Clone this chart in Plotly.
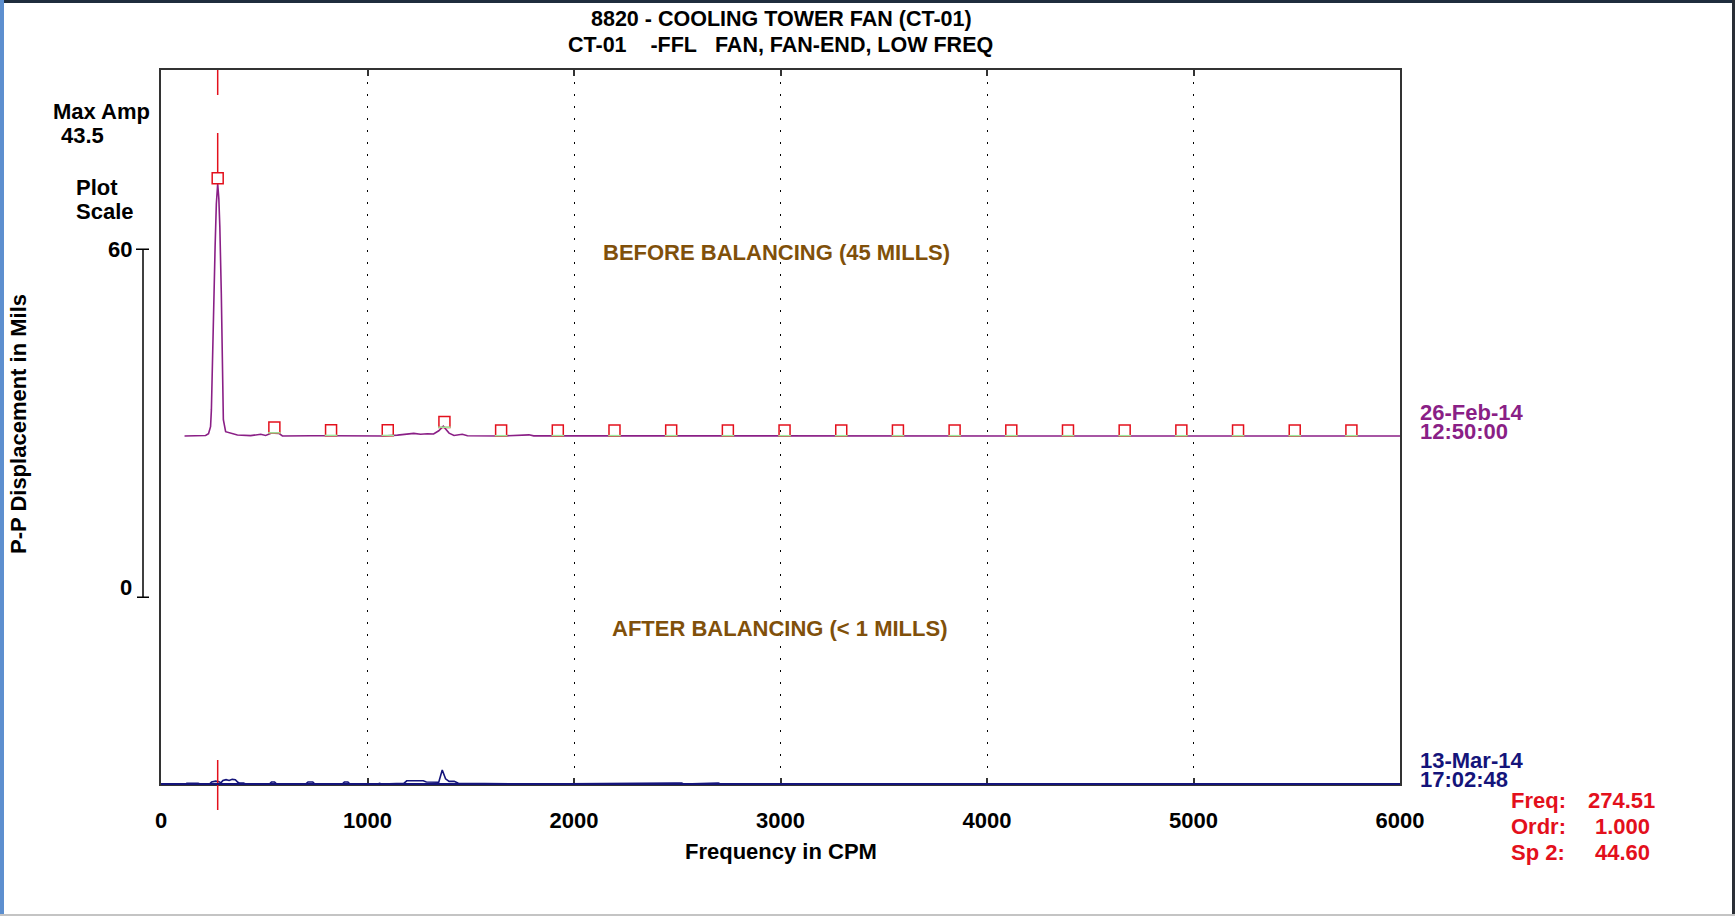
import numpy as np
import plotly.graph_objects as go

# ---------------- data ----------------
# 26-Feb-14 12:50:00  (before balancing) - frequency in CPM, P-P displacement in mils
FREQ_UPPER = [114, 150, 190, 216, 230, 240, 244, 252, 262, 268, 274.51, 280, 285, 292, 297, 302,
              313, 337, 370, 434, 483, 507, 539, 549, 571, 588, 628, 691, 725, 829, 919, 981,
              1078, 1145, 1175, 1224, 1257, 1290, 1320, 1345, 1367, 1395, 1419, 1459, 1484,
              1563, 1645, 1782, 1805, 2000, 3000, 4000, 5000, 6000]
AMP_UPPER = [0.0, 0.02, 0.03, 0.08, 0.4, 1.6, 4.5, 18.8, 32.6, 40.0, 43.5, 41.0, 36.0, 24.6, 10.2, 2.8,
             0.75, 0.45, 0.17, 0.06, 0.3, 0.1, 0.55, 0.5, 0.45, 0.0, 0.05, 0.1, 0.05, 0.05, 0.05, 0.05,
             0.0, 0.15, 0.25, 0.45, 0.3, 0.4, 0.35, 0.9, 1.7, 0.5, 0.1, 0.3, 0.05,
             0.05, 0.0, 0.2, 0.02, 0.02, 0.0, 0.01, 0.0, 0.0]

# 13-Mar-14 17:02:48  (after balancing)
FREQ_LOWER = [119, 125, 180, 190, 235, 245, 265, 281, 290, 300, 315, 330, 345, 360, 372, 380, 400,
              410, 525, 535, 550, 560, 700, 712, 735, 745, 878, 888, 905, 915, 1050, 1058, 1070,
              1128, 1176, 1190, 1270, 1285, 1335, 1345, 1362, 1378, 1395, 1420, 1440, 1553, 1560,
              1585, 1666, 1675, 1780, 1787, 1800, 2489, 2522, 2530, 2667, 2699, 2710, 6000]
AMP_LOWER = [0.0, 0.1, 0.1, 0.0, 0.0, 0.35, 0.5, 0.4, 0.2, 0.6, 0.75, 0.6, 0.8, 0.75, 0.3, 0.15, 0.15,
             0.0, 0.0, 0.35, 0.35, 0.0, 0.0, 0.35, 0.35, 0.0, 0.0, 0.35, 0.35, 0.0, 0.0, 0.1, 0.0,
             0.1, 0.1, 0.55, 0.55, 0.35, 0.4, 0.3, 2.4, 0.9, 0.45, 0.45, 0.12, 0.12, 0.0,
             0.12, 0.12, 0.0, 0.0, 0.1, 0.0, 0.15, 0.15, 0.0, 0.15, 0.15, 0.0, 0.0]

RUN_SPEED = 274.51          # Freq (CPM) of cursor
ORDER = 1.000
SPEED2 = 44.60
HARMONIC_ORDERS = list(range(1, 22))
DATES = ["26-Feb-14", "13-Mar-14"]
TIMES = ["12:50:00", "17:02:48"]
X_TICKS = [0, 1000, 2000, 3000, 4000, 5000, 6000]
SCALE_TICKS = [0, 60]
WATERFALL_OFFSET = 60.0      # vertical offset of the older spectrum (mils)
TITLE1 = "8820 - COOLING TOWER FAN (CT-01)"
TITLE2 = "CT-01\u00a0\u00a0\u00a0\u00a0-FFL\u00a0\u00a0\u00a0FAN, FAN-END, LOW FREQ"
NOTE_BEFORE = "BEFORE BALANCING (45 MILLS)"
NOTE_AFTER = "AFTER BALANCING (< 1 MILLS)"

# ---------------- layout geometry ----------------
W, H = 1735, 916
L, R, T, B = 161, 335, 70, 132
PW, PH = W - L - R, H - T - B
PX_PER_MIL = 5.8
YMAX = PH / PX_PER_MIL
SCALE_ORIGIN = 32.2          # where the plot-scale bar's 0 sits (mils on plot axis)

FONT = "Liberation Sans, Arial, sans-serif"
PURPLE = "#8a1f86"
NAVY = "#14147a"
RED = "#e3101c"
BROWN = "#80500a"


def px(xp):
    return (xp - L) / PW


def py(yp):
    return (T + PH - yp) / PH


def mil2paper(m):
    return m / YMAX


def ann(text, x, y, color="black", size=22, xanchor="center", yanchor="middle", angle=0):
    return dict(text=text, x=px(x), y=py(y), xref="paper", yref="paper", showarrow=False,
                xanchor=xanchor, yanchor=yanchor, textangle=angle,
                font=dict(family=FONT, size=size, color=color, weight="bold"))


fig = go.Figure()

upper_y = [a + WATERFALL_OFFSET for a in AMP_UPPER]
fig.add_trace(go.Scatter(x=FREQ_UPPER, y=upper_y, mode="lines",
                         line=dict(color=PURPLE, width=1.6), showlegend=False, hoverinfo="skip"))
fig.add_trace(go.Scatter(x=FREQ_LOWER, y=AMP_LOWER, mode="lines",
                         line=dict(color=NAVY, width=1.6), showlegend=False, hoverinfo="skip"))

# harmonic markers
MARK = 11
half_mils = (MARK / 2) / PX_PER_MIL
h_freq = [n * RUN_SPEED for n in HARMONIC_ORDERS]
h_amp = np.interp(h_freq, FREQ_UPPER, AMP_UPPER)
fig.add_trace(go.Scatter(x=h_freq, y=h_amp + WATERFALL_OFFSET + half_mils, mode="markers",
                         marker=dict(symbol="square-open", size=MARK, color=RED, line=dict(width=1.5)),
                         showlegend=False, hoverinfo="skip"))
fig.add_trace(go.Scatter(x=h_freq[1:], y=h_amp[1:] + WATERFALL_OFFSET + 0.05, mode="markers",
                         marker=dict(symbol="line-ew-open", size=MARK - 2, color="#9be89b",
                                     line=dict(width=1.5, color="#9be89b")),
                         showlegend=False, hoverinfo="skip"))

shapes = []
# cursor lines
peak_top = WATERFALL_OFFSET + h_amp[0] + 2 * half_mils
shapes.append(dict(type="line", xref="x", yref="paper", x0=RUN_SPEED, x1=RUN_SPEED,
                   y0=1.0, y1=py(95), line=dict(color=RED, width=1.5)))
shapes.append(dict(type="line", xref="x", yref="paper", x0=RUN_SPEED, x1=RUN_SPEED,
                   y0=py(133), y1=mil2paper(peak_top), line=dict(color=RED, width=1.5)))
shapes.append(dict(type="line", xref="x", yref="paper", x0=RUN_SPEED, x1=RUN_SPEED,
                   y0=py(760), y1=py(810), line=dict(color=RED, width=1.5)))
# bottom baseline of newest spectrum (covers axis line)
shapes.append(dict(type="line", xref="paper", yref="paper", x0=0, x1=1, y0=0, y1=0,
                   line=dict(color=NAVY, width=2)))
# plot-scale bar
s0 = mil2paper(SCALE_ORIGIN + SCALE_TICKS[0])
s1 = mil2paper(SCALE_ORIGIN + SCALE_TICKS[1])
shapes.append(dict(type="line", xref="paper", yref="paper", x0=px(143), x1=px(143), y0=s0, y1=s1,
                   line=dict(color="black", width=1.5)))
shapes.append(dict(type="line", xref="paper", yref="paper", x0=px(136), x1=px(149), y0=s1, y1=s1,
                   line=dict(color="black", width=1.5)))
shapes.append(dict(type="line", xref="paper", yref="paper", x0=px(137), x1=px(149), y0=s0, y1=s0,
                   line=dict(color="black", width=1.5)))
# window frame
shapes.append(dict(type="line", xref="paper", yref="paper", x0=px(0), x1=px(W), y0=py(1.5), y1=py(1.5),
                   line=dict(color="#1f2d3d", width=3)))
shapes.append(dict(type="line", xref="paper", yref="paper", x0=px(2), x1=px(2), y0=py(0), y1=py(H),
                   line=dict(color="#5d8fcf", width=4)))
shapes.append(dict(type="line", xref="paper", yref="paper", x0=px(W - 1.5), x1=px(W - 1.5), y0=py(0), y1=py(H),
                   line=dict(color="#2a2f36", width=3)))
shapes.append(dict(type="line", xref="paper", yref="paper", x0=px(0), x1=px(W), y0=py(H - 1), y1=py(H - 1),
                   line=dict(color="#c4c4c4", width=2)))

annotations = [
    ann(TITLE1, 781, 19, size=21.5),
    ann(TITLE2, 780, 45, size=21.5),
    ann("Max Amp", 51, 111, xanchor="left"),
    ann(f"{max(AMP_UPPER):.1f}", 59, 135, xanchor="left"),
    ann("Plot", 74, 187, xanchor="left"),
    ann("Scale", 74, 212, xanchor="left"),
    ann(str(SCALE_TICKS[1]), 134, 249, xanchor="right"),
    ann(str(SCALE_TICKS[0]), 134, 587, xanchor="right"),
    ann("P-P Displacement in Mils", 18, 424, angle=-90),
    ann(NOTE_BEFORE, 776, 252, color=BROWN),
    ann(NOTE_AFTER, 780, 628, color=BROWN),
    ann(DATES[0], 1418, 412, color=PURPLE, xanchor="left"),
    ann(TIMES[0], 1418, 431, color=PURPLE, xanchor="left"),
    ann(DATES[1], 1418, 760, color=NAVY, xanchor="left"),
    ann(TIMES[1], 1418, 779, color=NAVY, xanchor="left"),
    ann("Freq:", 1509, 800, color=RED, xanchor="left"),
    ann(f"{RUN_SPEED:.2f}", 1657, 800, color=RED, xanchor="right"),
    ann("Ordr:", 1509, 826, color=RED, xanchor="left"),
    ann(f"{ORDER:.3f}", 1652, 826, color=RED, xanchor="right"),
    ann("Sp 2:", 1509, 852, color=RED, xanchor="left"),
    ann(f"{SPEED2:.2f}", 1652, 852, color=RED, xanchor="right"),
    ann("Frequency in CPM", 781, 851),
]

fig.update_layout(
    width=W, height=H,
    margin=dict(l=L, r=R, t=T, b=B, pad=0),
    paper_bgcolor="white", plot_bgcolor="white",
    showlegend=False,
    shapes=shapes,
    annotations=annotations,
    xaxis=dict(range=[0, 6000], tickvals=X_TICKS, ticktext=[str(v) for v in X_TICKS],
               showgrid=True, gridcolor="black", gridwidth=1, griddash="2px,10px",
               zeroline=False, showline=True, linecolor="#333333", linewidth=2, mirror="ticks",
               ticks="inside", ticklen=6, tickcolor="#333333", tickwidth=1.5,
               ticklabelstandoff=16,
               tickfont=dict(family=FONT, size=22, color="black", weight="bold")),
    yaxis=dict(range=[0, YMAX], showgrid=False, zeroline=False, showticklabels=False,
               ticks="", showline=True, linecolor="#333333", linewidth=2, mirror=True),
)

fig.write_html("out.html", config={"displayModeBar": False},
               post_script="document.body.style.margin='0';document.body.style.overflow='hidden';")
